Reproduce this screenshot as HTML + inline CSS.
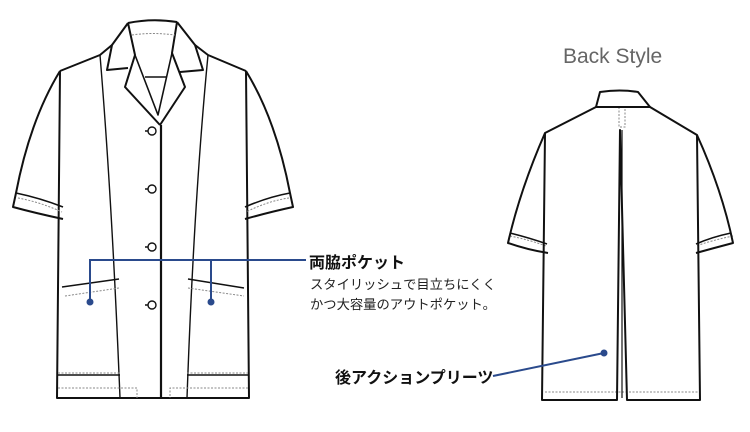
<!DOCTYPE html>
<html><head><meta charset="utf-8"><style>
body{margin:0;background:#fff;width:750px;height:432px;overflow:hidden}
svg{position:absolute;left:0;top:0}
.t{font-family:"Liberation Sans","Noto Sans CJK JP",sans-serif}
</style></head><body>
<svg width="750" height="432" viewBox="0 0 750 432">
<g fill="none" stroke="#111" stroke-width="2" stroke-linejoin="round">
<path d="M60,71 L57,398 L249,398 L246,71"/>
<path d="M60,71 L100,55 L112,45"/>
<path d="M246,71 L208,55 L195,45"/>
<path d="M60,71 Q30,120 16,193 L13,207 Q35,213 63,219"/>
<path d="M16,193 Q40,198 63,207" stroke-width="1.6"/>
<path d="M246,71 Q276,120 290,193 L293,207 Q270,212 245,219"/>
<path d="M290,193 Q268,197 245,207" stroke-width="1.6"/>
<path d="M128,23 Q152,18 177,22"/>
<path d="M128,23 L112,45 L107,70 L128,68"/>
<path d="M177,22 L195,45 L203,70 L180,72"/>
<path d="M128,23 L135,55 L125,87 L160,125"/>
<path d="M177,22 L172,53 L185,87 L160,125"/>
<path d="M135,55 L158,115 L172,53" stroke-width="1.6"/>
<path d="M145,77 L167,77" stroke-width="1.4"/>
<path d="M161,125 L161,398" stroke-width="2.2"/>
<path d="M100,55 Q112,200 120,398" stroke-width="1.4"/>
<path d="M208,55 Q194,200 187,398" stroke-width="1.4"/>
<path d="M62,287 L119,279" stroke-width="1.4"/>
<path d="M188,279 L244,288" stroke-width="1.4"/>
<path d="M58,375 L120,375 M187,375 L248,375" stroke-width="1.4"/>
</g>
<g fill="#fff" stroke="#111" stroke-width="1.4">
<circle cx="152" cy="131" r="4"/><circle cx="152" cy="189" r="4"/>
<circle cx="152" cy="247" r="4"/><circle cx="152" cy="305" r="4"/>
<path d="M145,131h3M145,189h3M145,247h3M145,305h3" fill="none"/>
</g>
<g fill="none" stroke="#888" stroke-width="1" stroke-dasharray="2,1.5">
<path d="M132,35 Q152,32 175,35"/>
<path d="M18,198 Q40,202 62,212"/>
<path d="M289,198 Q268,201 246,212"/>
<path d="M65,296 L119,288"/>
<path d="M188,288 L244,296"/>
<path d="M58,373 L120,373 M187,373 L248,373"/>
<path d="M58,388 L137,388 L137,398 M248,388 L170,388 L170,398"/>
<path d="M619,107 L619,127 L625,127 L625,107"/>
<path d="M510,236 Q530,240 546,246"/>
<path d="M733,236 Q713,240 696,246"/>
<path d="M545,392 L698,392"/>
</g>
<g fill="none" stroke="#111" stroke-width="2" stroke-linejoin="round">
<path d="M600,92 Q620,89 638,92 L650,107 L596,107 Z"/>
<path d="M596,107 L545,133 L542,400 L617,400 L620,130 L627,400 L700,400 L697,135 L650,107"/>
<path d="M545,133 Q520,190 508,243 Q528,250 548,253"/>
<path d="M510,233 Q530,238 547,244" stroke-width="1.6"/>
<path d="M697,135 Q722,190 733,243 Q714,248 696,253"/>
<path d="M731,233 Q712,237 696,244" stroke-width="1.6"/>
<path d="M622,130 L622,398" stroke-width="1.2"/>
</g>
<g stroke="#2a4a8c" stroke-width="2" fill="none">
<path d="M90,302 L90,260 L306,260 M211,260 L211,302"/>
<path d="M493,376 L604,353"/>
</g>
<g fill="#2a4a8c"><circle cx="90" cy="302" r="3.5"/><circle cx="211" cy="302" r="3.5"/><circle cx="604" cy="353" r="3.5"/></g>
<text class="t" x="563" y="63" font-size="21" fill="#666">Back Style</text>
<text class="t" x="309" y="268" font-size="16" font-weight="bold" fill="#111">両脇ポケット</text>
<text class="t" x="310" y="289" font-size="13.3" fill="#222">スタイリッシュで目立ちにくく</text>
<text class="t" x="310" y="309" font-size="13.3" fill="#222">かつ大容量のアウトポケット。</text>
<text class="t" x="335" y="383" font-size="16" font-weight="bold" fill="#111">後アクションプリーツ</text>
</svg>
</body></html>
